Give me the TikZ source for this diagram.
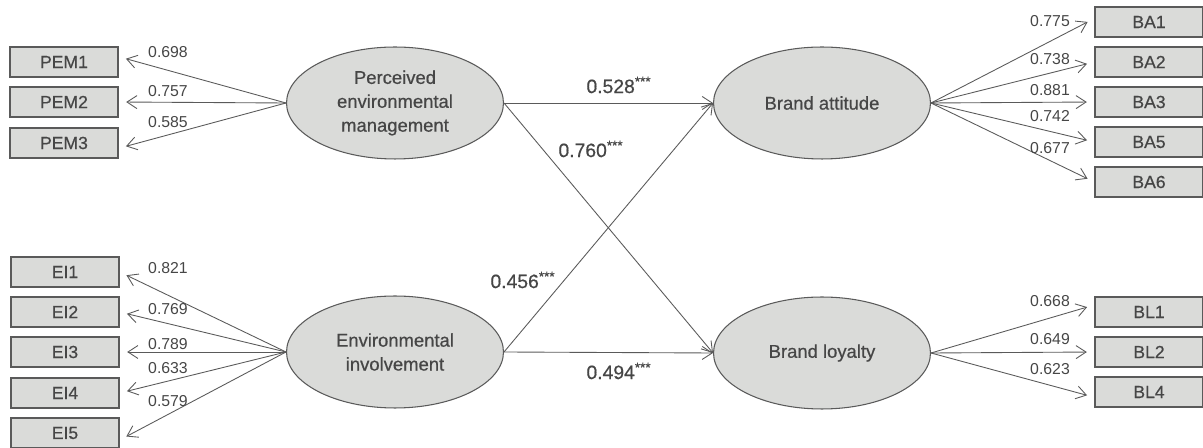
\documentclass[tikz,border=0pt]{standalone}
\usepackage{fontspec}
\setmainfont{Liberation Sans}
\newfontfamily\semheavy{Liberation Sans}[FakeBold=0.6]
\usetikzlibrary{shapes.geometric,arrows.meta}
\definecolor{semfill}{RGB}{218,219,217}
\definecolor{semtext}{RGB}{70,70,70}
\definecolor{semline}{RGB}{90,90,90}

\begin{document}
\begin{tikzpicture}[
    x=0.02cm, y=-0.02cm,
    indicator/.style={
      draw=semline,
      fill=semfill,
      line width=0.8pt,
      minimum width=2.16cm,
      minimum height=0.6cm,
      inner sep=0pt,
      text=semtext,
      font=\semheavy\fontsize{10}{12}\selectfont
    },
    latent/.style={
      ellipse,
      draw=semline,
      fill=semfill,
      line width=0.6pt,
      minimum width=4.34cm,
      minimum height=2.24cm,
      inner sep=0pt,
      align=center,
      text=semtext,
      font=\semheavy\fontsize{10.5}{13.6}\selectfont
    },
    loading/.style={
      draw=semline,
      line width=0.5pt,
      -{Straight Barb[length=0.2cm,width=0.26cm]},
      shorten >=0.15cm
    },
    effect/.style={
      draw=semline,
      line width=0.5pt,
      -{Straight Barb[length=0.2cm,width=0.26cm]}
    },
    weight/.style={text=semtext, inner sep=0pt, font=\fontsize{9}{10}\selectfont},
    coef/.style={text=semtext, inner sep=0pt, font=\semheavy\fontsize{11}{13}\selectfont}
  ]
    \useasboundingbox (0,0) rectangle (1203,448);

    % latent variables
    \node[latent] (pem) at (395,103) {Perceived\\environmental\\management};
    \node[latent] (ei) at (395,352) {Environmental\\involvement};
    \node[latent] (ba) at (822,103) {Brand attitude};
    \node[latent] (bl) at (822,353) {Brand loyalty};

    % indicators
    \node[indicator] (pem1) at (64,62) {PEM1};
    \node[indicator] (pem2) at (64,102) {PEM2};
    \node[indicator] (pem3) at (64,143) {PEM3};
    \node[indicator] (ei1) at (65,272) {EI1};
    \node[indicator] (ei2) at (65,312) {EI2};
    \node[indicator] (ei3) at (65,352) {EI3};
    \node[indicator] (ei4) at (65,393) {EI4};
    \node[indicator] (ei5) at (65,433) {EI5};
    \node[indicator] (ba1) at (1149,22) {BA1};
    \node[indicator] (ba2) at (1149,62) {BA2};
    \node[indicator] (ba3) at (1149,102) {BA3};
    \node[indicator] (ba5) at (1149,142) {BA5};
    \node[indicator] (ba6) at (1149,182) {BA6};
    \node[indicator] (bl1) at (1149,312) {BL1};
    \node[indicator] (bl2) at (1149,352) {BL2};
    \node[indicator] (bl4) at (1149,392) {BL4};

    % loadings
    \draw[loading] (pem.west) -- ([yshift=3]pem1.east);
    \draw[loading] (pem.west) -- (pem2.east);
    \draw[loading] (pem.west) -- ([yshift=-3]pem3.east);
    \draw[loading] (ei.west) -- (ei1.east);
    \draw[loading] (ei.west) -- (ei2.east);
    \draw[loading] (ei.west) -- (ei3.east);
    \draw[loading] (ei.west) -- (ei4.east);
    \draw[loading] (ei.west) -- ([yshift=-4]ei5.east);
    \draw[loading] (ba.east) -- ([yshift=2]ba1.west);
    \draw[loading] (ba.east) -- (ba2.west);
    \draw[loading] (ba.east) -- (ba3.west);
    \draw[loading] (ba.east) -- (ba5.west);
    \draw[loading] (ba.east) -- (ba6.west);
    \draw[loading] (bl.east) -- ([yshift=4]bl1.west);
    \draw[loading] (bl.east) -- (bl2.west);
    \draw[loading] (bl.east) -- ([yshift=-3]bl4.west);

    \node[weight] (w-pem1) at (168,52) {0.698};
    \node[weight] (w-pem2) at (168,91) {0.757};
    \node[weight] (w-pem3) at (168,122) {0.585};
    \node[weight] (w-ei1) at (168,268) {0.821};
    \node[weight] (w-ei2) at (168,309) {0.769};
    \node[weight] (w-ei3) at (168,344) {0.789};
    \node[weight] (w-ei4) at (168,368) {0.633};
    \node[weight] (w-ei5) at (168,401) {0.579};
    \node[weight] (w-ba1) at (1050,21) {0.775};
    \node[weight] (w-ba2) at (1050,59) {0.738};
    \node[weight] (w-ba3) at (1050,90) {0.881};
    \node[weight] (w-ba5) at (1050,116) {0.742};
    \node[weight] (w-ba6) at (1050,148) {0.677};
    \node[weight] (w-bl1) at (1050,301) {0.668};
    \node[weight] (w-bl2) at (1050,339) {0.649};
    \node[weight] (w-bl4) at (1050,369) {0.623};

    % structural paths
    \draw[effect] (pem.east) -- (ba.west);
    \draw[effect] (pem.east) -- (bl.west);
    \draw[effect] (ei.east) -- (ba.west);
    \draw[effect] (ei.east) -- (bl.west);

    \node[coef] (c-pem-ba) at (619,85) {0.528\textsuperscript{***}};
    \node[coef] (c-pem-bl) at (591,149) {0.760\textsuperscript{***}};
    \node[coef] (c-ei-ba) at (523,280) {0.456\textsuperscript{***}};
    \node[coef] (c-ei-bl) at (619,371) {0.494\textsuperscript{***}};
  \end{tikzpicture}
\end{document}
